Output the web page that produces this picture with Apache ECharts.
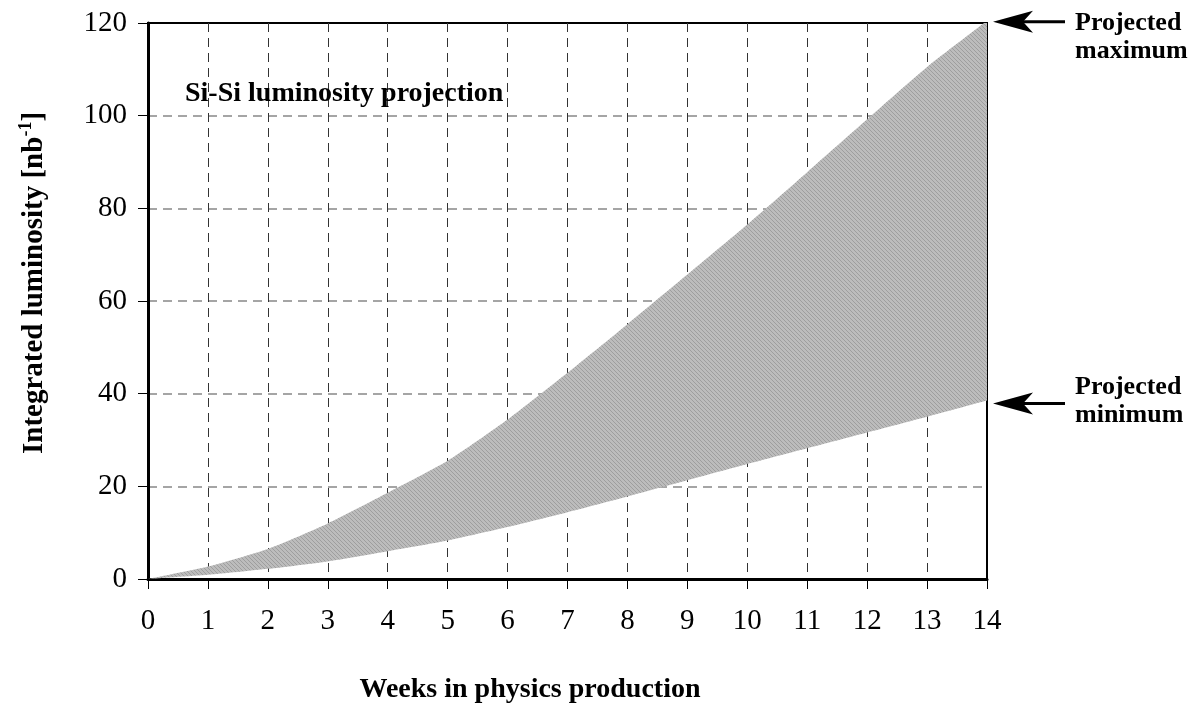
<!DOCTYPE html>
<html>
<head>
<meta charset="utf-8">
<script src="https://cdn.jsdelivr.net/npm/echarts@6/dist/echarts.min.js"></script>
<style>
  html, body { margin: 0; padding: 0; background: #fff; }
  #chart { width: 1198px; height: 711px; }
</style>
</head>
<body>
<div id="chart"></div>
<script>
  // weeks in physics production
  const weeks = ['0', '1', '2', '3', '4', '5', '6', '7', '8', '9', '10', '11', '12', '13', '14']
  // projected integrated luminosity, nb^-1
  const lumiMax = [0, 2.7, 6.5, 12, 18.6, 25.5, 34.4, 44.5, 55, 65.7, 76.5, 87.8, 99.2, 110.5, 120.5]
  const lumiMin = [0, 0.9, 2.2, 3.8, 6.0, 8.3, 11.2, 14.4, 17.8, 21.3, 24.8, 28.2, 31.6, 35, 38.5]

  const serif = '"Liberation Serif", "DejaVu Serif", serif'

  // hatched grey fill
  let pat = document.createElement('canvas')
  pat.width = 4
  pat.height = 4
  let pc = pat.getContext('2d')
  pc.fillStyle = '#bcbcbc'
  pc.fillRect(0, 0, 4, 4)
  pc.fillStyle = '#9e9e9e'
  for (let i = 0; i < 4; i++) {
    pc.fillRect(i, i, 1, 1)
  }

  let chart = echarts.init(document.getElementById('chart'))

  // band = lower curve + (max - min) stacked on top
  let spanData = lumiMax.map((v, i) => +(v - lumiMin[i]).toFixed(2))

  let options = {
    animation: false,
    grid: {
      left: 148,
      right: 211,
      top: 23,
      bottom: 132,
      show: true,
      borderColor: '#000',
      borderWidth: 2
    },
    xAxis: {
      type: 'category',
      data: weeks,
      boundaryGap: false,
      axisLine: { show: true, lineStyle: { color: '#000', width: 3 } },
      axisTick: { show: true, inside: false, length: 10, interval: 0, lineStyle: { color: '#000', width: 1 } },
      axisLabel: { color: '#000', fontFamily: serif, fontSize: 29, margin: 28, interval: 0 },
      splitLine: {
        show: true,
        interval: 0,
        showMinLine: false,
        showMaxLine: false,
        lineStyle: { color: '#333', width: 1, type: [9, 6] }
      }
    },
    yAxis: {
      type: 'value',
      min: 0,
      max: 120,
      interval: 20,
      axisLine: { show: true, lineStyle: { color: '#000', width: 3 } },
      axisTick: { show: true, inside: false, length: 10, lineStyle: { color: '#000', width: 1 } },
      axisLabel: { color: '#000', fontFamily: serif, fontSize: 29, margin: 21 },
      splitLine: {
        show: true,
        showMinLine: false,
        showMaxLine: false,
        lineStyle: { color: '#888', width: 1.5, type: [9, 6] }
      }
    },
    series: [{
      name: 'min',
      type: 'line',
      stack: 'band',
      data: lumiMin,
      smooth: 0.2,
      showSymbol: false,
      lineStyle: { width: 0 }
    }, {
      name: 'max',
      type: 'line',
      stack: 'band',
      data: spanData,
      smooth: 0.2,
      showSymbol: false,
      lineStyle: { width: 0 },
      areaStyle: { color: { image: pat, repeat: 'repeat' }, opacity: 1 }
    }]
  }
  chart.setOption(options)

  // annotations anchored to the end of the band
  let last = weeks.length - 1
  let pMax = chart.convertToPixel({ gridIndex: 0 }, [last, lumiMax[last]])
  let pMin = chart.convertToPixel({ gridIndex: 0 }, [last, lumiMin[last]])

  function arrow (tipX, y) {
    return [{
      type: 'line',
      shape: { x1: tipX + 30, y1: y, x2: tipX + 72, y2: y },
      style: { stroke: '#000', lineWidth: 3 }
    }, {
      type: 'polygon',
      shape: { points: [[tipX, y], [tipX + 40, y - 11], [tipX + 30, y], [tipX + 40, y + 11]] },
      style: { fill: '#000' }
    }]
  }

  let boldText = { fontFamily: serif, fontWeight: 'bold', fill: '#000' }

  chart.setOption({
    graphic: [].concat(
      arrow(pMax[0] + 6, pMax[1] + 1),
      arrow(pMin[0] + 6, pMin[1] + 3),
      [{
        type: 'text', left: 1075, top: 9,
        style: Object.assign({ text: 'Projected\nmaximum', fontSize: 26, lineHeight: 28 }, boldText)
      }, {
        type: 'text', left: 1075, top: 373,
        style: Object.assign({ text: 'Projected\nminimum', fontSize: 26, lineHeight: 28 }, boldText)
      }, {
        type: 'text', left: 185, top: 80,
        style: Object.assign({ text: 'Si-Si luminosity projection', fontSize: 28 }, boldText)
      }, {
        type: 'text', x: 530, y: 690,
        style: Object.assign({ text: 'Weeks in physics production', fontSize: 28, align: 'center', verticalAlign: 'middle' }, boldText)
      }, {
        type: 'text', x: 33, y: 283, rotation: Math.PI / 2,
        style: {
          text: '{a|Integrated luminosity [nb}{s|-1}{a|]}',
          align: 'center',
          verticalAlign: 'middle',
          rich: {
            a: { fontFamily: serif, fontWeight: 'bold', fontSize: 29, color: '#000', verticalAlign: 'bottom', lineHeight: 32 },
            s: { fontFamily: serif, fontWeight: 'bold', fontSize: 18, color: '#000', verticalAlign: 'top', lineHeight: 32 }
          }
        }
      }]
    )
  })
</script>
</body>
</html>
